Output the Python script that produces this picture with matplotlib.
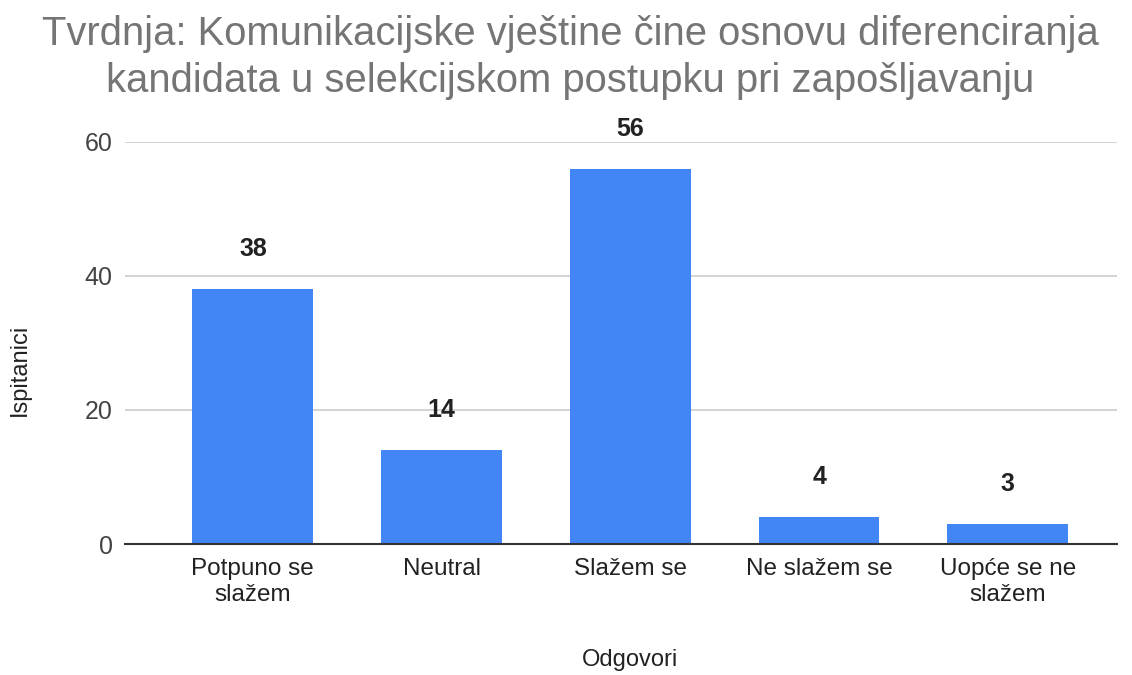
import matplotlib
matplotlib.use("Agg")
import matplotlib.pyplot as plt

categories = ["Potpuno se\nslažem", "Neutral", "Slažem se", "Ne slažem se", "Uopće se ne\nslažem"]
values = [38, 14, 56, 4, 3]
yticks = [0, 20, 40, 60]
title = "Tvrdnja: Komunikacijske vještine čine osnovu diferenciranja\nkandidata u selekcijskom postupku pri zapošljavanju"

plt.rcParams['font.family'] = ['Liberation Sans', 'DejaVu Sans']

fig = plt.figure(figsize=(11.32, 6.75), dpi=100)
ax = fig.add_axes([0.110, 0.194, 0.877, 0.596])

x = list(range(len(categories)))
bars = ax.bar(x, values, width=0.64, color="#4285F4", zorder=3)
for xi, v in zip(x, values):
    ax.annotate(str(v), (xi, v), xytext=(0, 20), textcoords="offset points",
                ha="center", va="bottom", fontsize=18, fontweight="bold", color="#222222")

ax.set_xlim(-0.68, 4.58)
ax.set_ylim(0, 60)
ax.set_yticks(yticks)
ax.set_xticks(x)
ax.set_xticklabels(categories, fontsize=17.5, color="#222222", linespacing=1.25)
ax.tick_params(axis='y', labelsize=18, labelcolor="#444444", length=0, pad=8.5)
ax.tick_params(axis='x', length=0, pad=10)
ax.grid(axis='y', color="#cccccc", linewidth=1.2, zorder=0)
for s in ["top", "right", "left"]:
    ax.spines[s].set_visible(False)
ax.spines["bottom"].set_color("#333333")
ax.spines["bottom"].set_linewidth(1.5)
ax.spines["bottom"].set_zorder(4)

ax.set_ylabel("Ispitanici", fontsize=17, color="#222222")
ax.yaxis.set_label_coords(-0.094, 0.433)
ax.set_xlabel("Odgovori", fontsize=17, color="#222222")
ax.xaxis.set_label_coords(0.509, -0.262)
fig.text(0.504, 0.915, title, ha="center", va="center", fontsize=28.8, color="#757575", linespacing=1.32)

fig.savefig("out.png", dpi=100, facecolor="white")
